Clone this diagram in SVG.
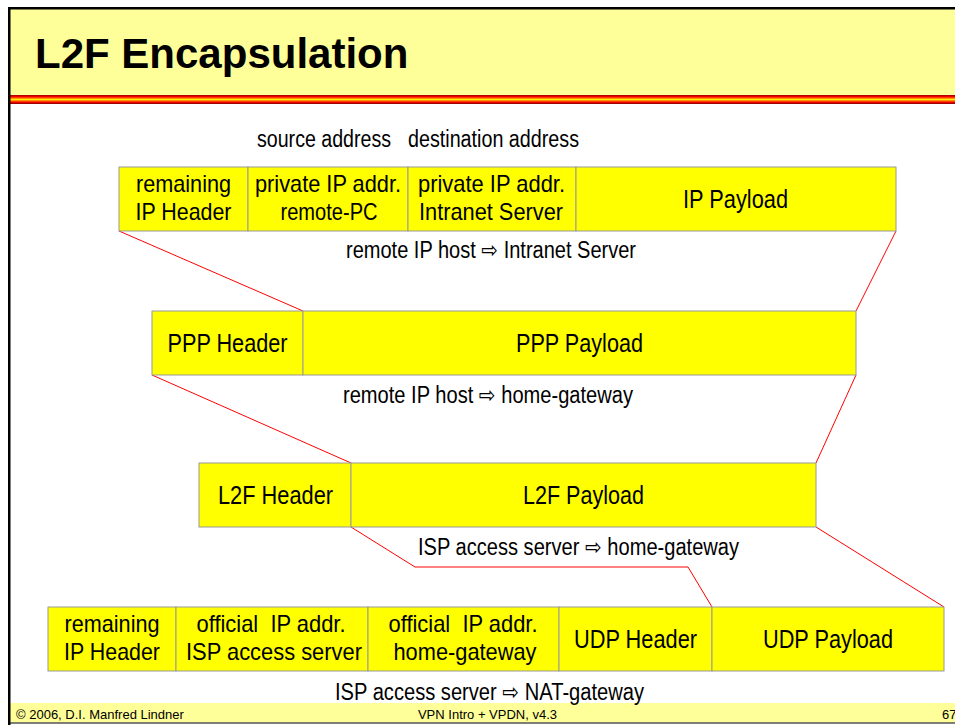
<svg xmlns="http://www.w3.org/2000/svg" width="955" height="725" viewBox="0 0 955 725">
  <defs>
    <linearGradient id="stripe" x1="0" y1="0" x2="0" y2="1">
      <stop offset="0" stop-color="#990000"/>
      <stop offset="0.2" stop-color="#ff0000"/>
      <stop offset="0.4" stop-color="#ff9900"/>
      <stop offset="0.5" stop-color="#ffee00"/>
      <stop offset="0.6" stop-color="#ff9900"/>
      <stop offset="0.8" stop-color="#ff0000"/>
      <stop offset="1" stop-color="#800000"/>
    </linearGradient>
    <style>
      .cell { fill: #ffff00; stroke: #999999; stroke-width: 1; }
      .t { font-family: "Liberation Sans Narrow", "Arial Narrow", "Liberation Sans", Arial, sans-serif; font-size: 26px; fill: #000; text-anchor: middle; }
      .t2 { font-size: 24px; }
      .cap { font-family: "Liberation Sans Narrow", "Arial Narrow", "Liberation Sans", "DejaVu Sans", sans-serif; font-size: 23px; fill: #000; text-anchor: middle; }
      .foot { font-family: "Liberation Sans", Arial, sans-serif; font-size: 13px; fill: #000; }
      .link { fill: none; stroke: #ff0000; stroke-width: 1; }
    </style>
  </defs>

  <!-- page background and frame -->
  <rect x="0" y="0" width="955" height="725" fill="#ffffff"/>
  <rect x="10" y="9" width="945" height="86" fill="#ffff99"/>
  <rect x="10" y="95" width="945" height="9" fill="url(#stripe)"/>
  <rect x="10" y="703" width="945" height="20" fill="#ffff99"/>
  <line x1="10" y1="723" x2="955" y2="723" stroke="#555555" stroke-width="1.5"/>
  <rect x="8" y="7" width="947" height="2.5" fill="#000000"/>
  <rect x="8" y="7" width="2.5" height="718" fill="#000000"/>

  <!-- title -->
  <text x="35" y="68" font-family="Liberation Sans, Arial, sans-serif" font-size="42" font-weight="bold" fill="#000">L2F Encapsulation</text>

  <!-- field labels above the IP packet -->
  <text class="cap" x="324" y="147" textLength="134" lengthAdjust="spacingAndGlyphs">source address</text>
  <text class="cap" x="493.5" y="147" textLength="171" lengthAdjust="spacingAndGlyphs">destination address</text>

  <!-- connectors between the encapsulation layers -->
  <g id="connectors">
    <polyline class="link" points="119,231 303,311"/>
    <polyline class="link" points="896,231 856,311"/>
    <polyline class="link" points="152,375 351,463"/>
    <polyline class="link" points="856,375 816,463"/>
    <polyline class="link" points="351,527 415,567 688,567 712,607"/>
    <polyline class="link" points="816,527 944,607"/>
  </g>

  <!-- IP packet -->
  <g id="ip-packet">
    <g id="ip-header-rest">
      <rect class="cell" x="119" y="167" width="129" height="64"/>
      <text class="t t2" x="183.5" y="192" textLength="95" lengthAdjust="spacingAndGlyphs">remaining</text>
      <text class="t t2" x="183.5" y="220" textLength="96" lengthAdjust="spacingAndGlyphs">IP Header</text>
    </g>
    <g id="ip-src">
      <rect class="cell" x="248" y="167" width="160" height="64"/>
      <text class="t t2" x="328" y="192" textLength="146" lengthAdjust="spacingAndGlyphs">private IP addr.</text>
      <text class="t t2" x="329" y="220" textLength="97" lengthAdjust="spacingAndGlyphs">remote-PC</text>
    </g>
    <g id="ip-dst">
      <rect class="cell" x="408" y="167" width="168" height="64"/>
      <text class="t t2" x="491.5" y="192" textLength="147" lengthAdjust="spacingAndGlyphs">private IP addr.</text>
      <text class="t t2" x="491" y="220" textLength="144" lengthAdjust="spacingAndGlyphs">Intranet Server</text>
    </g>
    <g id="ip-payload">
      <rect class="cell" x="576" y="167" width="320" height="64"/>
      <text class="t" x="735.5" y="208" textLength="105" lengthAdjust="spacingAndGlyphs">IP Payload</text>
    </g>
  </g>
  <text class="cap" x="491" y="258" textLength="290" lengthAdjust="spacingAndGlyphs">remote IP host ⇨ Intranet Server</text>

  <!-- PPP frame -->
  <g id="ppp-frame">
    <g id="ppp-header">
      <rect class="cell" x="152" y="311" width="151" height="64"/>
      <text class="t" x="227.5" y="352" textLength="120" lengthAdjust="spacingAndGlyphs">PPP Header</text>
    </g>
    <g id="ppp-payload">
      <rect class="cell" x="303" y="311" width="553" height="64"/>
      <text class="t" x="579.5" y="352" textLength="127" lengthAdjust="spacingAndGlyphs">PPP Payload</text>
    </g>
  </g>
  <text class="cap" x="488" y="403" textLength="290" lengthAdjust="spacingAndGlyphs">remote IP host ⇨ home-gateway</text>

  <!-- L2F frame -->
  <g id="l2f-frame">
    <g id="l2f-header">
      <rect class="cell" x="199" y="463" width="152" height="64"/>
      <text class="t" x="275.5" y="504" textLength="115" lengthAdjust="spacingAndGlyphs">L2F Header</text>
    </g>
    <g id="l2f-payload">
      <rect class="cell" x="351" y="463" width="465" height="64"/>
      <text class="t" x="583.5" y="504" textLength="121" lengthAdjust="spacingAndGlyphs">L2F Payload</text>
    </g>
  </g>
  <text class="cap" x="578.5" y="555" textLength="321" lengthAdjust="spacingAndGlyphs">ISP access server ⇨ home-gateway</text>

  <!-- outer UDP/IP packet -->
  <g id="udp-packet">
    <g id="outer-ip-header-rest">
      <rect class="cell" x="48" y="607" width="128" height="64"/>
      <text class="t t2" x="112" y="632" textLength="95" lengthAdjust="spacingAndGlyphs">remaining</text>
      <text class="t t2" x="112" y="660" textLength="96" lengthAdjust="spacingAndGlyphs">IP Header</text>
    </g>
    <g id="outer-ip-src">
      <rect class="cell" x="176" y="607" width="192" height="64"/>
      <text class="t t2" x="271" y="632" textLength="149" lengthAdjust="spacingAndGlyphs" xml:space="preserve">official  IP addr.</text>
      <text class="t t2" x="274" y="660" textLength="176" lengthAdjust="spacingAndGlyphs">ISP access server</text>
    </g>
    <g id="outer-ip-dst">
      <rect class="cell" x="368" y="607" width="191" height="64"/>
      <text class="t t2" x="463" y="632" textLength="149" lengthAdjust="spacingAndGlyphs" xml:space="preserve">official  IP addr.</text>
      <text class="t t2" x="465" y="660" textLength="143" lengthAdjust="spacingAndGlyphs">home-gateway</text>
    </g>
    <g id="udp-header">
      <rect class="cell" x="559" y="607" width="153" height="64"/>
      <text class="t" x="635.5" y="648" textLength="123" lengthAdjust="spacingAndGlyphs">UDP Header</text>
    </g>
    <g id="udp-payload">
      <rect class="cell" x="712" y="607" width="232" height="64"/>
      <text class="t" x="828" y="648" textLength="130" lengthAdjust="spacingAndGlyphs">UDP Payload</text>
    </g>
  </g>
  <text class="cap" x="489.5" y="700" textLength="309" lengthAdjust="spacingAndGlyphs">ISP access server ⇨ NAT-gateway</text>

  <!-- footer -->
  <text class="foot" x="16" y="719">© 2006, D.I. Manfred Lindner</text>
  <text class="foot" x="487.5" y="719" text-anchor="middle">VPN Intro + VPDN, v4.3</text>
  <text class="foot" x="942" y="719">67</text>
</svg>
